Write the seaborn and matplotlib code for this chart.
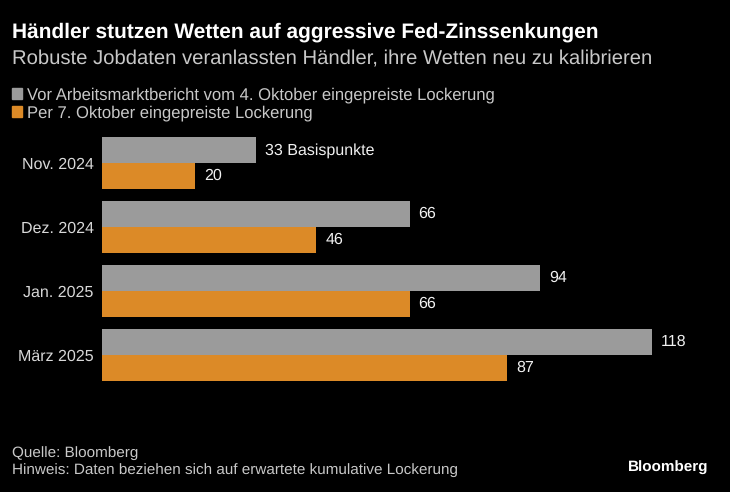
import pandas as pd
import matplotlib.pyplot as plt
import seaborn as sns

# =========================
# Data
# =========================
months = ["Nov. 2024", "Dez. 2024", "Jan. 2025", "März 2025"]
before_report = [33, 66, 94, 118]
after_report = [20, 46, 66, 87]
series_names = ["Vor Arbeitsmarktbericht vom 4. Oktober eingepreiste Lockerung",
                "Per 7. Oktober eingepreiste Lockerung"]
colors = ["#9b9b9b", "#dc8a27"]

df = pd.DataFrame({
    "Monat": months * 2,
    "Wert": before_report + after_report,
    "Serie": [series_names[0]] * 4 + [series_names[1]] * 4,
})

# =========================
# Style
# =========================
sns.set_style("dark")
plt.rcParams["font.family"] = ["Liberation Sans", "DejaVu Sans"]
plt.rcParams["text.hinting"] = "no_hinting"
bg = "#000000"
txt = "#c8c8c8"

fig = plt.figure(figsize=(7.3, 4.92), dpi=100, facecolor=bg)
W, H = 730, 492
ax = fig.add_axes([102 / W, 1 - 387 / H, (700 - 102) / W, (387 - 131) / H])
ax.set_facecolor(bg)

sns.barplot(data=df, y="Monat", x="Wert", hue="Serie", orient="h",
            palette=colors, width=0.8, saturation=1, ax=ax, legend=False,
            linewidth=0, edgecolor="none")

ax.set_xlim(0, (700 - 102) / 4.66)
ax.set_ylim(3.5, -0.5)
ax.set_xlabel("")
ax.set_ylabel("")
ax.set_xticks([])
ax.grid(False)
for s in ax.spines.values():
    s.set_visible(False)
ax.tick_params(axis="y", length=0, pad=6, labelsize=11.5, labelcolor="#d8d8d8")

# value labels
for i, cont in enumerate(ax.containers):
    vals = before_report if i == 0 else after_report
    labels = [str(v) for v in vals]
    if i == 0:
        labels[0] = f"{vals[0]} Basispunkte"
    ax.bar_label(cont, labels=labels, padding=6.5, color="#f0f0f0", fontsize=11.5)

# =========================
# Titles, legend, footer
# =========================
fig.text(12 / W, 1 - 38 / H, "Händler stutzen Wetten auf aggressive Fed-Zinssenkungen",
         fontsize=15, fontweight="bold", color="#ffffff")
fig.text(12 / W, 1 - 64 / H, "Robuste Jobdaten veranlassten Händler, ihre Wetten neu zu kalibrieren",
         fontsize=14.6, color=txt)

for k, (name, c) in enumerate(zip(series_names, colors)):
    yb = 99 + k * 18
    fig.patches.append(plt.Rectangle((12 / W, 1 - yb / H), 10 / W, 11 / H,
                                     transform=fig.transFigure, color=c))
    fig.text(27 / W, 1 - yb / H, name, fontsize=12, color=txt)

fig.text(12 / W, 1 - 457 / H, "Quelle: Bloomberg", fontsize=11, color=txt)
fig.text(12 / W, 1 - 474 / H, "Hinweis: Daten beziehen sich auf erwartete kumulative Lockerung",
         fontsize=11, color=txt)
fig.text(708 / W, 1 - 472 / H, "Bloomberg", fontsize=11, fontweight="bold",
         color="#ffffff", ha="right")

fig.savefig("out.png", dpi=100, facecolor=bg)
